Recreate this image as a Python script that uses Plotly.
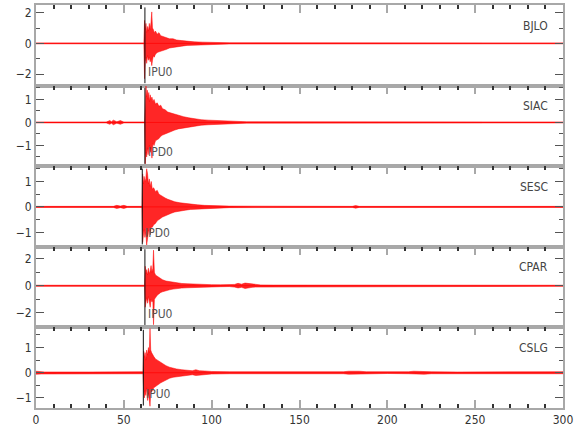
import plotly.graph_objects as go
from plotly.subplots import make_subplots

STATIONS = ["BJLO", "SIAC", "SESC", "CPAR", "CSLG"]
PICK_T = [62.0, 62.0, 60.5, 62.0, 61.1]
PICK_LABEL = ["IPU0", "IPD0", "IPD0", "IPU0", "IPU0"]

BJLO_t = [0, 61.4, 61.8, 62.2, 62.6, 63.0, 63.5, 64.0, 64.5, 65.0, 65.5, 65.9, 66.3, 66.8, 67.3, 68, 69, 70, 71, 72, 74, 76, 78, 80, 83, 86, 90, 95, 100, 110, 300]
BJLO_hi = [0.03, 0.03, 1.5, 0.9, 1.3, 0.7, 1.1, 0.8, 1.3, 0.9, 1.4, 2.05, 1.0, 0.9, 0.7, 0.8, 0.6, 0.7, 0.5, 0.45, 0.4, 0.3, 0.3, 0.22, 0.18, 0.13, 0.1, 0.08, 0.06, 0.04, 0.03]
BJLO_lo = [-0.03, -0.03, -2.3, -1.2, -0.9, -1.3, -0.8, -1.1, -0.9, -1.2, -1.0, -1.45, -1.1, -0.8, -0.9, -0.7, -0.6, -0.55, -0.5, -0.45, -0.4, -0.3, -0.28, -0.22, -0.18, -0.13, -0.1, -0.08, -0.06, -0.04, -0.03]

SIAC_t = [0, 40, 42, 43, 44, 46, 48, 50, 61.8, 62.2, 62.6, 63.0, 63.4, 63.8, 64.2, 64.6, 65.0, 65.5, 66.0, 66.6, 67.2, 68, 69, 70, 71, 72, 73.5, 75, 77, 79, 81, 84, 87, 90, 94, 98, 103, 110, 120, 300]
SIAC_hi = [0.02, 0.02, 0.08, 0.03, 0.1, 0.03, 0.08, 0.02, 0.02, 1.2, 1.6, 1.1, 1.4, 1.0, 1.3, 0.9, 1.2, 1.0, 1.1, 0.9, 1.0, 0.8, 0.85, 0.7, 0.75, 0.6, 0.55, 0.45, 0.4, 0.35, 0.3, 0.25, 0.2, 0.16, 0.12, 0.1, 0.08, 0.05, 0.03, 0.02]
SIAC_lo = [-0.02, -0.02, -0.08, -0.03, -0.1, -0.03, -0.08, -0.02, -0.02, -1.8, -1.3, -1.5, -1.1, -1.4, -1.2, -1.0, -1.3, -1.1, -1.55, -0.9, -1.0, -0.8, -0.75, -0.7, -0.6, -0.55, -0.5, -0.45, -0.38, -0.33, -0.28, -0.24, -0.2, -0.16, -0.12, -0.1, -0.08, -0.05, -0.03, -0.02]

SESC_t = [0, 44, 46, 48, 50, 52, 60.3, 60.7, 61.1, 61.5, 62.0, 62.5, 63.0, 63.5, 64.0, 64.5, 65.0, 65.6, 66.2, 67, 68, 69, 70, 71, 72, 73.5, 75, 77, 79, 82, 85, 88, 92, 96, 100, 110, 180, 182, 184, 300]
SESC_hi = [0.02, 0.02, 0.06, 0.03, 0.06, 0.02, 0.02, 1.3, 0.9, 1.2, 1.0, 1.1, 1.5, 1.3, 0.9, 1.1, 0.8, 1.0, 0.7, 0.75, 0.6, 0.65, 0.5, 0.45, 0.4, 0.35, 0.3, 0.25, 0.2, 0.16, 0.13, 0.1, 0.08, 0.06, 0.05, 0.03, 0.02, 0.05, 0.02, 0.02]
SESC_lo = [-0.02, -0.02, -0.06, -0.03, -0.06, -0.02, -0.02, -1.4, -1.1, -0.9, -1.2, -1.0, -1.5, -1.2, -1.0, -0.9, -1.1, -0.8, -0.8, -0.7, -0.65, -0.55, -0.5, -0.45, -0.4, -0.35, -0.3, -0.25, -0.2, -0.16, -0.13, -0.1, -0.08, -0.06, -0.05, -0.03, -0.02, -0.05, -0.02, -0.02]

CPAR_t = [0, 61.8, 62.2, 62.6, 63.0, 63.5, 64.0, 64.5, 65.0, 65.5, 66.0, 66.5, 66.9, 67.4, 68, 69, 70, 71, 72, 74, 76, 78, 80, 83, 86, 90, 95, 100, 105, 110, 113, 115, 117, 119, 121, 123, 125, 128, 135, 300]
CPAR_hi = [0.04, 0.04, 1.45, 0.9, 1.2, 0.8, 1.3, 0.9, 1.1, 1.5, 1.0, 1.3, 2.65, 1.0, 0.8, 0.7, 0.6, 0.5, 0.45, 0.35, 0.3, 0.25, 0.2, 0.17, 0.15, 0.12, 0.1, 0.08, 0.07, 0.06, 0.1, 0.18, 0.12, 0.2, 0.16, 0.12, 0.1, 0.06, 0.05, 0.04]
CPAR_lo = [-0.04, -0.04, -1.6, -1.2, -0.9, -1.3, -0.8, -1.2, -1.6, -1.0, -1.2, -1.1, -2.9, -1.0, -0.9, -0.7, -0.6, -0.5, -0.45, -0.35, -0.3, -0.25, -0.2, -0.17, -0.15, -0.12, -0.1, -0.08, -0.07, -0.06, -0.1, -0.16, -0.12, -0.2, -0.16, -0.12, -0.1, -0.06, -0.05, -0.04]

CSLG_t = [0, 3, 5, 30, 40, 44, 48, 52, 56, 60.9, 61.3, 61.7, 62.1, 62.5, 63.0, 63.5, 64.0, 64.5, 64.9, 65.3, 65.8, 66.4, 67, 68, 69, 70, 71, 72, 74, 76, 78, 80, 83, 86, 89, 91, 93, 96, 100, 110, 140, 175, 178, 181, 184, 188, 200, 212, 215, 218, 221, 225, 240, 300]
CSLG_hi = [0.06, 0.05, 0.03, 0.03, 0.04, 0.05, 0.04, 0.05, 0.04, 0.04, 0.86, 0.6, 0.8, 0.5, 0.9, 0.7, 1.0, 0.8, 1.75, 0.9, 0.8, 0.7, 0.65, 0.55, 0.5, 0.45, 0.4, 0.35, 0.28, 0.22, 0.18, 0.15, 0.12, 0.1, 0.08, 0.12, 0.08, 0.07, 0.05, 0.04, 0.03, 0.04, 0.06, 0.07, 0.06, 0.04, 0.03, 0.04, 0.06, 0.05, 0.06, 0.04, 0.03, 0.04]
CSLG_lo = [-0.06, -0.05, -0.03, -0.03, -0.04, -0.05, -0.04, -0.05, -0.04, -0.04, -0.73, -1.0, -0.7, -0.9, -0.6, -1.1, -0.8, -0.9, -1.33, -0.8, -0.75, -0.7, -0.6, -0.55, -0.5, -0.45, -0.4, -0.35, -0.28, -0.22, -0.18, -0.15, -0.12, -0.1, -0.08, -0.11, -0.08, -0.07, -0.05, -0.04, -0.03, -0.04, -0.06, -0.07, -0.06, -0.04, -0.03, -0.04, -0.06, -0.05, -0.06, -0.04, -0.03, -0.04]

Y_RANGES = [[-2.75, 2.5], [-1.9, 1.6], [-1.57, 1.6], [-3.1, 2.9], [-1.4, 1.8]]
Y_DTICK = [2, 1, 1, 2, 1]
X_TICKS = [0, 50, 100, 150, 200, 250, 300]

traces = [
    (BJLO_t, BJLO_hi, BJLO_lo),
    (SIAC_t, SIAC_hi, SIAC_lo),
    (SESC_t, SESC_hi, SESC_lo),
    (CPAR_t, CPAR_hi, CPAR_lo),
    (CSLG_t, CSLG_hi, CSLG_lo),
]

FONT = "Liberation Sans Narrow, DejaVu Sans Condensed, Liberation Sans, sans-serif"
AXIS_GRAY = "#a8a8a8"

fig = make_subplots(rows=5, cols=1, shared_xaxes=True, vertical_spacing=0)

for i, (t, hi, lo) in enumerate(traces):
    row = i + 1
    xs = list(t) + list(reversed(t))
    ys = list(hi) + list(reversed(lo))
    fig.add_trace(go.Scatter(x=xs, y=ys, mode="lines", fill="toself",
                             fillcolor="rgba(255,0,0,0.85)",
                             line=dict(color="#ff0000", width=0.5),
                             hoverinfo="skip", showlegend=False), row=row, col=1)
    fig.add_trace(go.Scatter(x=[t[0], t[-1]], y=[0, 0], mode="lines",
                             line=dict(color="rgba(255,0,0,0.9)", width=0.8),
                             hoverinfo="skip", showlegend=False), row=row, col=1)
    xref = "x" if row == 1 else f"x{row}"
    yref = "y domain" if row == 1 else f"y{row} domain"
    fig.add_shape(type="line", xref=xref, yref=yref, x0=PICK_T[i], x1=PICK_T[i],
                  y0=0.03, y1=0.97, line=dict(color="#111111", width=1))
    fig.add_annotation(xref=xref, yref=yref, x=PICK_T[i], y=0.17, text=PICK_LABEL[i],
                       showarrow=False, xanchor="left", yanchor="middle", xshift=1,
                       font=dict(family=FONT, size=12, color="#555555"))
    fig.add_annotation(xref=xref + " domain", yref=yref,
                       x=0.975, y=0.745, text=STATIONS[i], showarrow=False,
                       xanchor="right", yanchor="middle",
                       font=dict(family=FONT, size=12, color="#444444"))
    fig.update_yaxes(range=Y_RANGES[i], dtick=Y_DTICK[i], tick0=0,
                     minor=dict(dtick=Y_DTICK[i] / 2, ticklen=4, tickcolor="#555555", ticks="inside"),
                     row=row, col=1)
    if row < 5:
        fig.update_xaxes(side="top", mirror=True, showticklabels=False, row=row, col=1)
    else:
        fig.update_xaxes(side="bottom", mirror="ticks", showticklabels=True, row=row, col=1)
    fig.update_xaxes(range=[0, 300], tickvals=X_TICKS,
                     minor=dict(dtick=10, tick0=0, ticklen=4, tickcolor="#333333", ticks="inside"),
                     row=row, col=1)

fig.update_xaxes(showline=True, linecolor=AXIS_GRAY, linewidth=2,
                 ticks="inside", ticklen=8, tickwidth=2, tickcolor=AXIS_GRAY,
                 showgrid=False, zeroline=False, automargin=False,
                 tickfont=dict(family=FONT, size=12, color="#333333"))
fig.update_yaxes(showline=True, linecolor=AXIS_GRAY, linewidth=2, mirror="ticks",
                 ticks="inside", ticklen=8, tickwidth=1, tickcolor="#555555",
                 showgrid=False, zeroline=False, automargin=False,
                 tickfont=dict(family=FONT, size=12, color="#333333"))

fig.update_layout(width=580, height=440, margin=dict(l=36, r=17, t=5, b=32, autoexpand=False),
                  paper_bgcolor="white", plot_bgcolor="white", showlegend=False)

fig.write_html("out.html", config={"displayModeBar": False},
               post_script="document.body.style.margin='0px';")
